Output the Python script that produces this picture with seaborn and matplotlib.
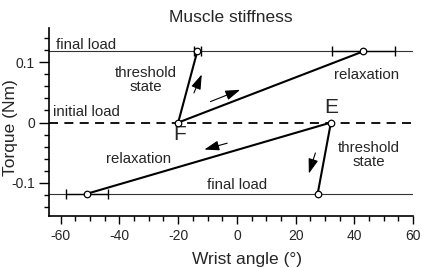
import numpy as np
import pandas as pd
import matplotlib
matplotlib.use('Agg')
import matplotlib.pyplot as plt
from matplotlib.ticker import MultipleLocator
import seaborn as sns

# segments start at the equilibrium points F / E and end at the final load
start_x = [-20, -20, 32, 32]
start_y = [0.0, 0.0, 0.0, 0.0]
end_x = [-13.5, 43, 27.5, -51]
end_y = [0.118, 0.118, -0.118, -0.118]
end_err = [1.2, 10.7, 0.0, 7.2]

final_load = [0.118, -0.118]
initial_load = 0.0

sns.set_style('ticks')
plt.rcParams['font.family'] = ['Liberation Sans', 'DejaVu Sans']

fig = plt.figure(figsize=(4.22, 2.68), dpi=100)
ax = fig.add_axes([0.116, 0.194, 0.863, 0.702])

# load lines
for fl in final_load:
    ax.axhline(fl, color='#333333', lw=0.8, zorder=1)
ax.axhline(initial_load, color='black', lw=1.3, ls=(0, (5, 3.5)), zorder=1)

# segments
for i in range(len(start_x)):
    seg = pd.DataFrame({'x': [start_x[i], end_x[i]], 'y': [start_y[i], end_y[i]]})
    sns.lineplot(data=seg, x='x', y='y', sort=False, estimator=None,
                 color='black', lw=1.5, ax=ax, zorder=2)

# error bars on the end points
for i in range(len(end_x)):
    if end_err[i] > 0:
        ax.errorbar(end_x[i], end_y[i], xerr=end_err[i], fmt='none',
                    ecolor='black', elinewidth=1.0, capsize=3.5, capthick=1.0, zorder=3)

pts = pd.DataFrame({'x': start_x[::2] + end_x, 'y': start_y[::2] + end_y})
sns.scatterplot(data=pts, x='x', y='y', marker='o', s=22, facecolor='white',
                edgecolor='black', linewidth=0.9, ax=ax, zorder=4)

# arrows
arr = dict(arrowstyle='-|>,head_length=0.9,head_width=0.3', color='black', lw=0.8)
ax.annotate('', xy=(-11.6, 0.084), xytext=(-15, 0.045), arrowprops=arr)
ax.annotate('', xy=(2, 0.056), xytext=(-9.9, 0.033), arrowprops=arr)
ax.annotate('', xy=(-12, -0.046), xytext=(-2.4, -0.033), arrowprops=arr)
ax.annotate('', xy=(24.2, -0.089), xytext=(27, -0.046), arrowprops=arr)

# text labels
fs = 10.8
ax.text(-61.5, 0.128, 'final load', fontsize=fs, ha='left', va='center')
ax.text(-62.5, 0.018, 'initial load', fontsize=fs, ha='left', va='center')
ax.text(-31, 0.07, 'threshold\nstate', fontsize=fs, ha='center', va='center', linespacing=1.0)
ax.text(44, 0.079, 'relaxation', fontsize=fs, ha='center', va='center')
ax.text(-33.5, -0.061, 'relaxation', fontsize=fs, ha='center', va='center')
ax.text(0, -0.104, 'final load', fontsize=fs, ha='center', va='center')
ax.text(45, -0.053, 'threshold\nstate', fontsize=fs, ha='center', va='center', linespacing=1.0)
ax.text(-19.5, -0.02, 'F', fontsize=15, ha='center', va='center')
ax.text(32, 0.025, 'E', fontsize=15, ha='center', va='center')

ax.set_xlim(-64, 60)
ax.set_ylim(-0.155, 0.157)
ax.xaxis.set_major_locator(MultipleLocator(20))
ax.xaxis.set_minor_locator(MultipleLocator(5))
ax.yaxis.set_major_locator(MultipleLocator(0.1))
ax.yaxis.set_minor_locator(MultipleLocator(0.02))
ax.set_yticks([-0.1, 0, 0.1])
ax.set_yticklabels(['-0.1', '0', '0.1'])
ax.set_xticklabels([str(int(v)) for v in ax.get_xticks()])
ax.tick_params(axis='y', which='major', length=7, width=1, labelsize=10, color='black', pad=3)
ax.tick_params(axis='x', which='major', length=6, width=1, labelsize=10, color='black', pad=3)
ax.tick_params(which='minor', length=3.5, width=1, color='black')
sns.despine(ax=ax)
for s in ['left', 'bottom']:
    ax.spines[s].set_color('black')
    ax.spines[s].set_linewidth(1.2)

ax.set_xlabel('Wrist angle (°)', fontsize=12.5)
ax.set_ylabel('Torque (Nm)', fontsize=12.5, va='center')
ax.xaxis.set_label_coords(0.544, -0.19)
ax.yaxis.set_label_coords(-0.106, 0.47)
ax.set_title('Muscle stiffness', fontsize=12.5, pad=4)

plt.savefig('out.png', dpi=100)
